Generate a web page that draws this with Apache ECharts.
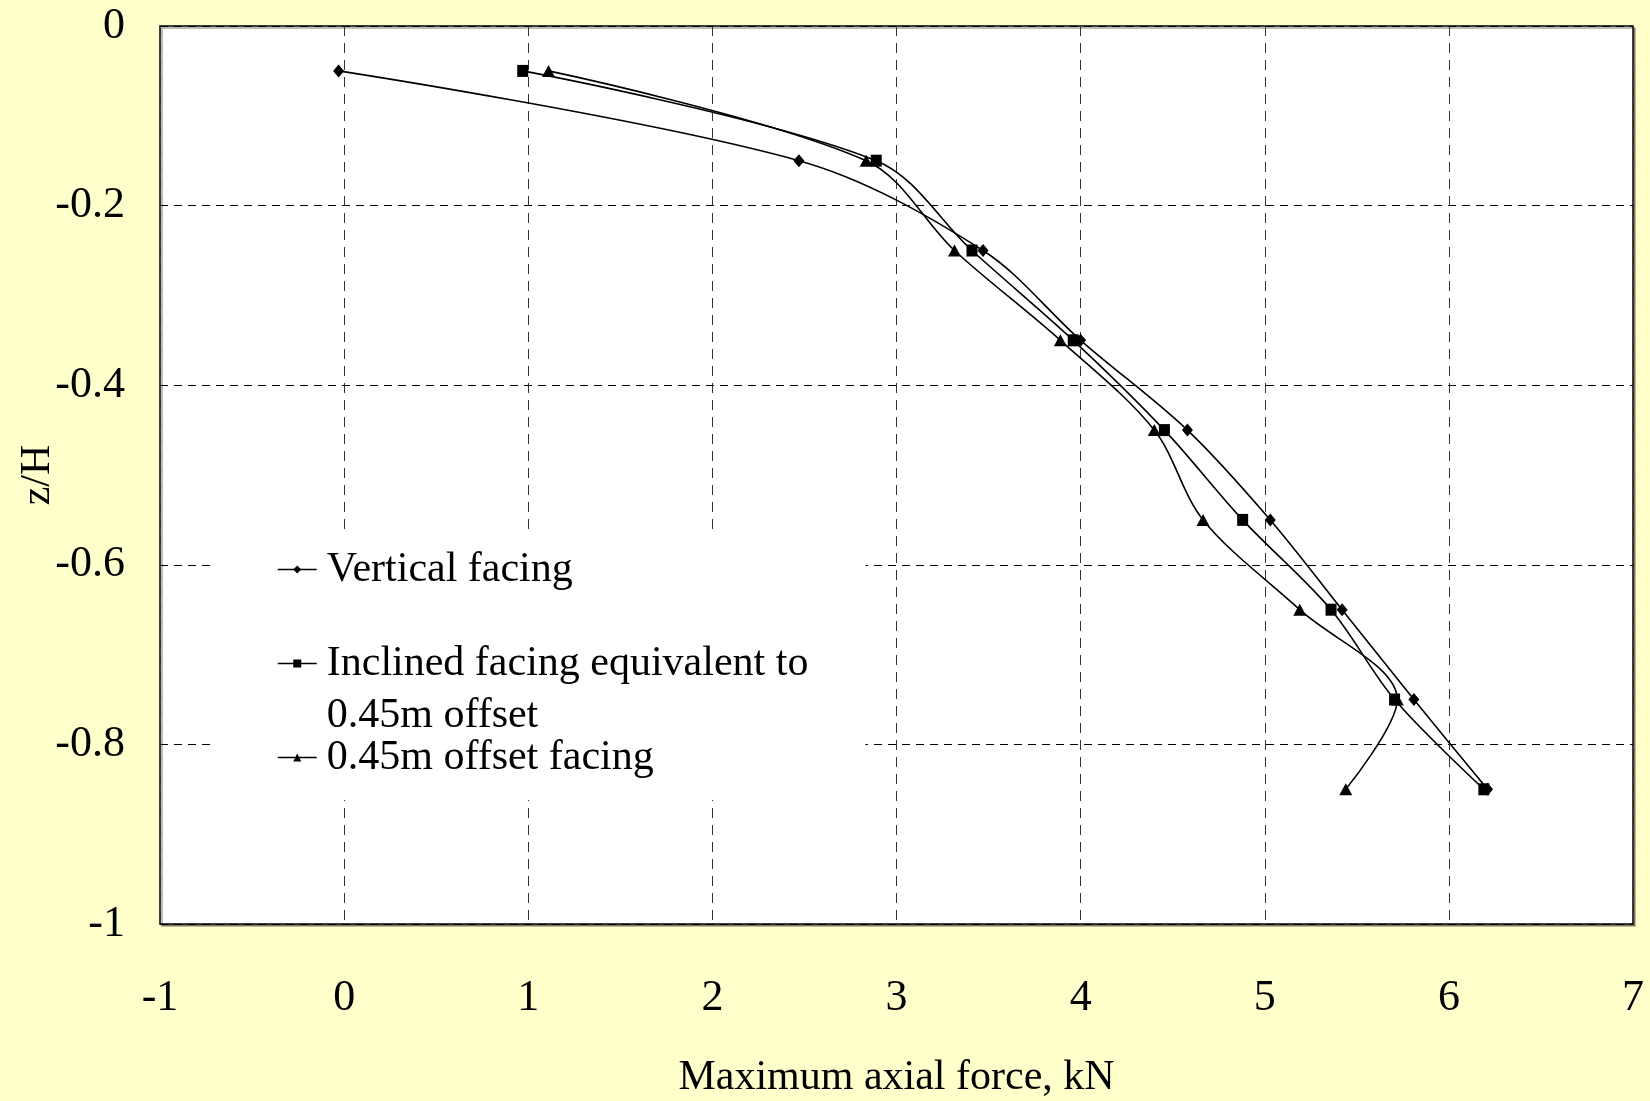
<!DOCTYPE html>
<html>
<head>
<meta charset="utf-8">
<title>Maximum axial force vs depth</title>
<script src="https://cdn.jsdelivr.net/npm/echarts@6/dist/echarts.min.js"></script>
<style>
  html, body { margin: 0; padding: 0; background: #FFFFCC; }
  #chart { width: 1650px; height: 1101px; }
</style>
</head>
<body>
<div id="chart"></div>
<script>
// Normalised depth of each reinforcement layer (z/H)
const depthLevels = [-0.05, -0.15, -0.25, -0.35, -0.45, -0.55, -0.65, -0.75, -0.85];

// Maximum axial force in each layer, kN
const verticalFacing = [-0.03, 2.47, 3.47, 4.00, 4.58, 5.03, 5.42, 5.81, 6.21];
const inclinedFacing = [0.97, 2.89, 3.41, 3.96, 4.455, 4.88, 5.36, 5.705, 6.19];
const offsetFacing   = [1.11, 2.835, 3.315, 3.89, 4.40, 4.665, 5.19, 5.72, 5.44];

const seriesNames = [
  'Vertical facing',
  'Inclined facing equivalent to 0.45m offset',
  '0.45m offset facing'
];
const legendLabels = {
  'Vertical facing': 'Vertical facing',
  'Inclined facing equivalent to 0.45m offset': ' \nInclined facing equivalent to\n0.45m offset',
  '0.45m offset facing': '0.45m offset facing'
};

const xTicks = { min: -1, max: 7, step: 1 };
const yTicks = { min: -1, max: 0, step: 0.2 };

const FONT = 'Liberation Serif';

function pairs(forces) {
  return forces.map((f, i) => [f, depthLevels[i]]);
}

function lineSeries(name, forces, symbol, size) {
  return {
    name: name,
    type: 'line',
    data: pairs(forces),
    smooth: 0.33,
    symbol: symbol,
    symbolSize: size,
    showSymbol: true,
    color: '#000',
    lineStyle: { color: '#000', width: 1.6 },
    itemStyle: { color: '#000' },
    animation: false
  };
}

const chart = echarts.init(document.getElementById('chart'));
chart.setOption({
  backgroundColor: '#FFFFCC',
  animation: false,
  grid: {
    left: 160, right: 17, top: 26, bottom: 177,
    containLabel: false,
    outerBoundsMode: 'none',
    show: true,
    backgroundColor: '#fff',
    borderColor: '#000',
    borderWidth: 1.5,
    shadowColor: 'rgba(0,0,0,0.35)',
    shadowOffsetX: 2,
    shadowOffsetY: 2,
    shadowBlur: 0
  },
  legend: {
    orient: 'vertical',
    left: 213,
    top: 533,
    padding: [10.5, 57, 16.5, 64],
    itemGap: -10,
    itemWidth: 39,
    itemHeight: 10,
    backgroundColor: '#fff',
    borderWidth: 0,
    selectedMode: false,
    data: seriesNames,
    formatter: function (name) { return legendLabels[name]; },
    textStyle: {
      fontFamily: FONT,
      fontSize: 42,
      color: '#000',
      lineHeight: 52,
      padding: [0, 0, 0, 5]
    },
    lineStyle: { width: 1.5 }
  },
  xAxis: {
    type: 'value',
    min: xTicks.min,
    max: xTicks.max,
    interval: xTicks.step,
    name: 'Maximum axial force, kN',
    nameLocation: 'middle',
    nameGap: 133,
    nameMoveOverlap: false,
    nameTextStyle: { fontFamily: FONT, fontSize: 42, color: '#000' },
    axisLine: { show: false },
    axisTick: { show: false },
    axisLabel: { fontFamily: FONT, fontSize: 44, color: '#000', margin: 52 },
    splitLine: { show: true, lineStyle: { color: '#333', width: 1, type: [10, 7] } }
  },
  yAxis: {
    type: 'value',
    min: yTicks.min,
    max: yTicks.max,
    interval: yTicks.step,
    name: 'z/H',
    nameLocation: 'middle',
    nameRotate: 90,
    nameGap: 101,
    nameMoveOverlap: false,
    nameTextStyle: { fontFamily: FONT, fontSize: 42, color: '#000' },
    axisLine: { show: false },
    axisTick: { show: false },
    axisLabel: { fontFamily: FONT, fontSize: 44, color: '#000', margin: 35 },
    splitLine: { show: true, lineStyle: { color: '#000', width: 1, type: [8, 6] } }
  },
  series: [
    lineSeries(seriesNames[0], verticalFacing, 'diamond', [11, 13]),
    lineSeries(seriesNames[1], inclinedFacing, 'rect', [11, 12]),
    lineSeries(seriesNames[2], offsetFacing, 'triangle', [13, 12])
  ]
});
</script>
</body>
</html>
